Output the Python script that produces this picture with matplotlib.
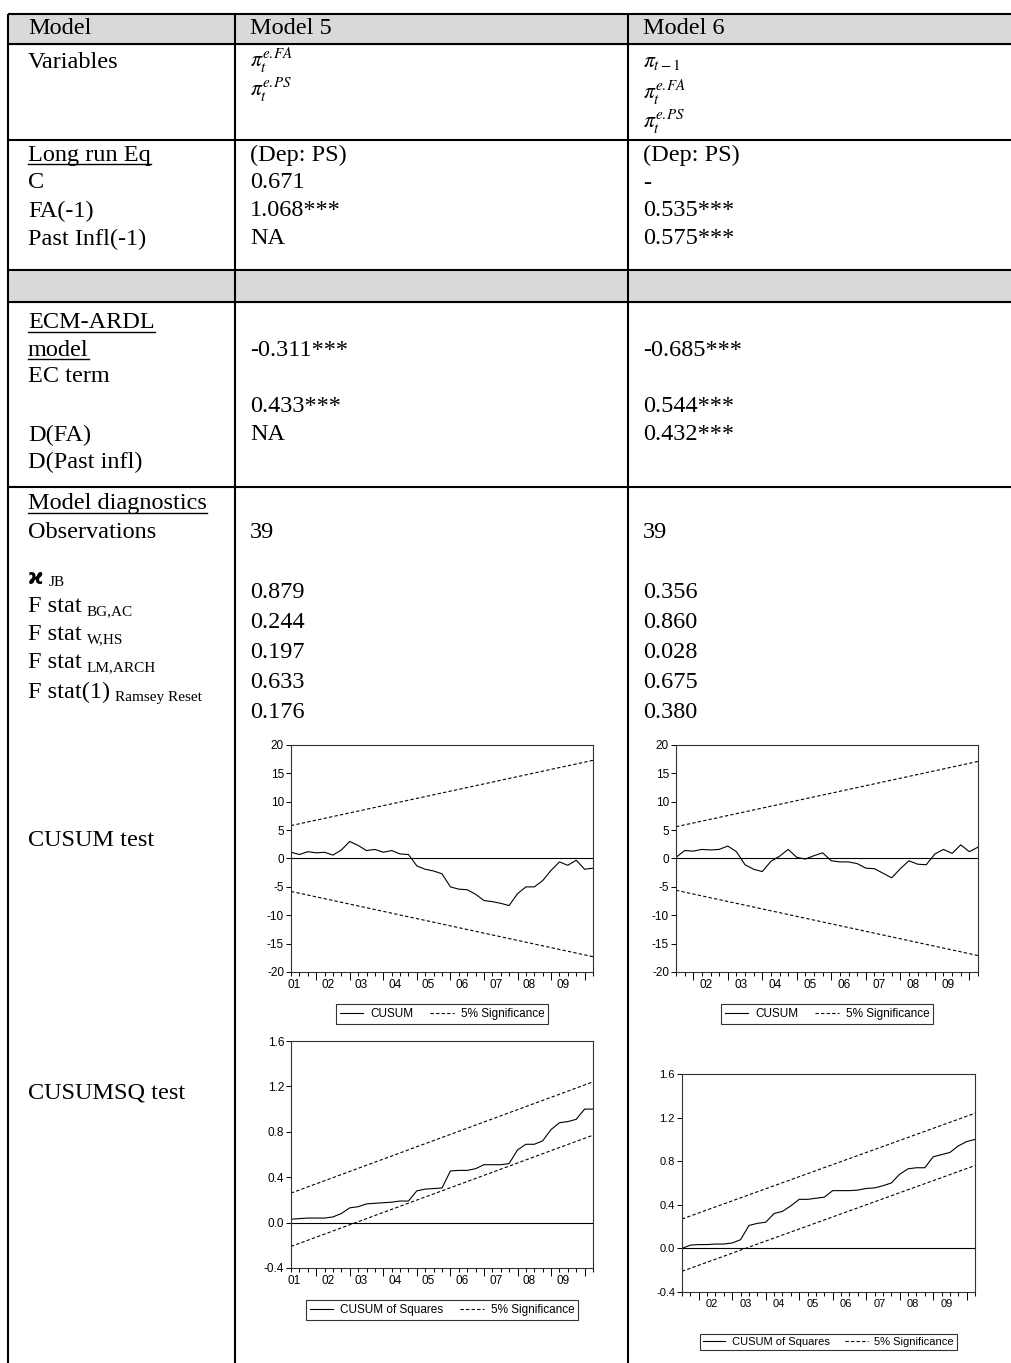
import matplotlib.pyplot as plt
from matplotlib.patches import Rectangle
from matplotlib.lines import Line2D
import numpy as np

plt.rcParams['font.family'] = ['Liberation Serif', 'DejaVu Serif']

W, H = 1011, 1363

# ---- table text ----
headers = ['Model', 'Model 5', 'Model 6']
vars_m5 = [r'$\pi_t^{e.\!FA}$', r'$\pi_t^{e.\!PS}$']
vars_m6 = [r'$\pi_{t-1}$', r'$\pi_t^{e.\!FA}$', r'$\pi_t^{e.\!PS}$']
longrun_rows = ['C', 'FA(-1)', 'Past Infl(-1)']
longrun_m5 = ['(Dep: PS)', '0.671', '1.068***', 'NA']
longrun_m6 = ['(Dep: PS)', '-', '0.535***', '0.575***']
ecm_rows = ['EC term', 'D(FA)', 'D(Past infl)']
ecm_m5 = ['-0.311***', '0.433***', 'NA']
ecm_m6 = ['-0.685***', '0.544***', '0.432***']
diag_main = ['F stat', 'F stat', 'F stat', 'F stat(1)']
diag_sub = ['BG,AC', 'W,HS', 'LM,ARCH', 'Ramsey Reset']
obs_m5, obs_m6 = '39', '39'
diag_m5 = ['0.879', '0.244', '0.197', '0.633', '0.176']
diag_m6 = ['0.356', '0.860', '0.028', '0.675', '0.380']

# ---- stability test series (quarterly) ----
cusum_m5 = [1.1, 0.7, 1.2, 1.0, 1.1, 0.6, 1.5, 3.0, 2.3, 1.4, 1.6, 1.1, 1.4, 0.8, 0.7,
            -1.3, -1.9, -2.2, -2.7, -5.0, -5.4, -5.5, -6.3, -7.4, -7.6, -7.9, -8.3,
            -6.2, -5.0, -5.0, -3.9, -2.1, -0.6, -1.2, -0.3, -1.9, -1.7]
cusum_m6 = [0.2, 1.4, 1.3, 1.6, 1.5, 1.6, 2.2, 1.2, -1.1, -1.9, -2.3, -0.5, 0.4, 1.6,
            0.2, -0.1, 0.5, 1.0, -0.4, -0.6, -0.6, -0.9, -1.7, -1.8, -2.6, -3.4, -1.8,
            -0.4, -1.0, -1.1, 0.8, 1.6, 0.9, 2.4, 1.2, 2.0]
cusumsq_m5 = [0.03, 0.035, 0.04, 0.04, 0.04, 0.05, 0.08, 0.13, 0.14, 0.165, 0.17, 0.175,
              0.18, 0.19, 0.19, 0.28, 0.295, 0.30, 0.305, 0.455, 0.46, 0.46, 0.475, 0.51,
              0.51, 0.51, 0.52, 0.64, 0.69, 0.69, 0.72, 0.82, 0.88, 0.89, 0.91, 1.0, 1.0]
cusumsq_m6 = [0.0, 0.03, 0.035, 0.035, 0.04, 0.04, 0.05, 0.08, 0.21, 0.23, 0.24, 0.32,
              0.34, 0.39, 0.45, 0.45, 0.46, 0.47, 0.53, 0.53, 0.53, 0.535, 0.55, 0.555,
              0.575, 0.60, 0.68, 0.73, 0.74, 0.74, 0.84, 0.86, 0.88, 0.94, 0.98, 1.0]
# 5% significance bands: value at first and last observation
band_cusum_m5 = ([5.8, 17.3], [-5.8, -17.3])
band_cusum_m6 = ([5.6, 17.1], [-5.6, -17.1])
band_sq_m5 = ([0.26, 1.24], [-0.21, 0.77])
band_sq_m6 = ([0.27, 1.24], [-0.21, 0.76])
years_m5 = ['01', '02', '03', '04', '05', '06', '07', '08', '09']
years_m6 = ['02', '03', '04', '05', '06', '07', '08', '09']

fig = plt.figure(figsize=(W / 100, H / 100), dpi=100)
tab = fig.add_axes([0, 0, 1, 1])
tab.set_xlim(0, W)
tab.set_ylim(H, 0)
tab.axis('off')

# grey rows
gray = '#d9d9d9'
tab.add_patch(Rectangle((8, 14), W - 8, 30, color=gray, zorder=0))
tab.add_patch(Rectangle((8, 270), W - 8, 32, color=gray, zorder=0))

# rules
lw = 1.5
for y in [14, 44, 140, 270, 302, 487]:
    tab.plot([8, W], [y, y], color='black', lw=lw, solid_capstyle='butt')
for x in [8, 235, 628]:
    tab.plot([x, x], [14, H], color='black', lw=lw, solid_capstyle='butt')

FS = 17.5
c0, c1, c2 = 28, 250, 643


def put(x, y, s, **kw):
    kw.setdefault('fontsize', FS)
    return tab.text(x, y, s, va='center', ha='left', **kw)


for x, s in zip([c0, c1, c2], headers):
    put(x, 29, s)

put(c0, 62, 'Variables')
for y, s in zip([60, 90], vars_m5):
    put(c1, y, s, math_fontfamily='stix', fontsize=15.5)
for y, s in zip([62, 92, 122], vars_m6):
    put(c2, y, s, math_fontfamily='stix', fontsize=15.5)

under = []
under.append(put(c0, 155, 'Long run Eq'))
for y, s in zip([183, 211, 239], longrun_rows):
    put(c0, y, s)
for y, a, b in zip([155, 183, 211, 239], longrun_m5, longrun_m6):
    put(c1, y, a)
    put(c2, y, b)

under.append(put(c0, 323, 'ECM-ARDL'))
under.append(put(c0, 350, 'model'))
for y, s in zip([377, 435, 462], ecm_rows):
    put(c0, y, s)
for y, a, b in zip([350, 407, 435], ecm_m5, ecm_m6):
    put(c1, y, a)
    put(c2, y, b)

under.append(put(c0, 504, 'Model diagnostics'))
put(c0, 533, 'Observations')
put(c1, 533, obs_m5)
put(c2, 533, obs_m6)
chi = tab.text(c0, 578, 'ϰ', va='center', ha='left', fontsize=15,
               family=['DejaVu Sans'], fontweight='bold')
mains = [chi]
subs = ['JB'] + diag_sub
for y, s in zip([607, 635, 663, 692], diag_main):
    mains.append(put(c0, y, s))
for y, a, b in zip([593, 622, 653, 683, 713], diag_m5, diag_m6):
    put(c1, y, a)
    put(c2, y, b)

put(c0, 840, 'CUSUM test')
put(c0, 1093, 'CUSUMSQ test')

# underline and subscripts need text extents
fig.canvas.draw()
r = fig.canvas.get_renderer()
inv = tab.transData.inverted()
for t in under:
    bb = t.get_window_extent(r)
    (x0, y0), (x1, _) = inv.transform([[bb.x0, bb.y0], [bb.x1, bb.y1]])
    tab.plot([x0, x1], [y0 - 2, y0 - 2], color='black', lw=1.0)
for t, s in zip(mains, subs):
    bb = t.get_window_extent(r)
    (x1, y0), = inv.transform([[bb.x1, bb.y0]])
    _, yc = t.get_position()
    tab.text(x1 + 5, yc + 5, s, va='center', ha='left', fontsize=11)


# ---- charts ----
def px_axes(x0, y0, x1, y1):
    return fig.add_axes([x0 / W, 1 - y1 / H, (x1 - x0) / W, (y1 - y0) / H])


def stability(box, series, band, ylim, yticks, yfmt, years, lab0, long0,
              name, leg_y, fs=8.5):
    ax = px_axes(*box)
    n = len(series)
    t = np.arange(n)
    ax.plot(t, series, color='black', lw=0.8)
    ax.plot([0, n - 1], band[0], color='black', lw=0.8, ls=(0, (3, 2)))
    ax.plot([0, n - 1], band[1], color='black', lw=0.8, ls=(0, (3, 2)))
    ax.axhline(0, color='black', lw=0.8)
    ax.set_xlim(0, n - 1)
    ax.set_ylim(*ylim)
    ax.set_yticks(yticks)
    ax.set_yticklabels([yfmt.format(v) for v in yticks])
    ax.set_xticks(lab0 + 4 * np.arange(len(years)))
    ax.set_xticklabels(years)
    ax.set_xticks(t, minor=True)
    ax.tick_params(axis='x', which='major', length=0, pad=5, labelsize=fs)
    ax.tick_params(axis='x', which='minor', length=3, width=0.7, direction='out')
    ax.tick_params(axis='y', length=3.5, width=0.7, direction='out', pad=1.5,
                   labelsize=fs)
    for lab in ax.get_xticklabels() + ax.get_yticklabels():
        lab.set_family(['Liberation Sans', 'DejaVu Sans'])
    for sp in ax.spines.values():
        sp.set_color('#333333')
        sp.set_linewidth(0.8)
    sec = ax.secondary_xaxis('bottom')
    sec.set_xticks(np.arange(long0, n, 4))
    sec.tick_params(length=6, width=0.7, direction='out', labelbottom=False)
    sec.spines['bottom'].set_visible(False)
    handles = [Line2D([], [], color='black', lw=0.8),
               Line2D([], [], color='black', lw=0.8, ls=(0, (3, 2)))]
    leg = ax.legend(handles, [name, '5% Significance'], loc='center',
                    bbox_to_anchor=(0.5, leg_y), ncol=2, frameon=True,
                    fancybox=False, edgecolor='black', handlelength=2.0,
                    handletextpad=0.6, columnspacing=1.4, borderpad=0.3,
                    prop={'family': ['Liberation Sans', 'DejaVu Sans'], 'size': fs})
    leg.get_frame().set_linewidth(0.8)
    return ax


cusum_ticks = [-20, -15, -10, -5, 0, 5, 10, 15, 20]
sq_ticks = [-0.4, 0.0, 0.4, 0.8, 1.2, 1.6]
stability((291, 745, 593, 972), cusum_m5, band_cusum_m5, (-20, 20), cusum_ticks,
          '{:g}', years_m5, 0.4, 3, 'CUSUM', -0.185)
stability((676, 745, 978, 972), cusum_m6, band_cusum_m6, (-20, 20), cusum_ticks,
          '{:g}', years_m6, 3.5, 2, 'CUSUM', -0.185)
stability((291, 1041, 593, 1268), cusumsq_m5, band_sq_m5, (-0.4, 1.6), sq_ticks,
          '{:.1f}', years_m5, 0.4, 3, 'CUSUM of Squares', -0.185)
stability((682, 1074, 975, 1292), cusumsq_m6, band_sq_m6, (-0.4, 1.6), sq_ticks,
          '{:.1f}', years_m6, 3.6, 2, 'CUSUM of Squares', -0.23, fs=8)

fig.savefig('out.png', dpi=100)
